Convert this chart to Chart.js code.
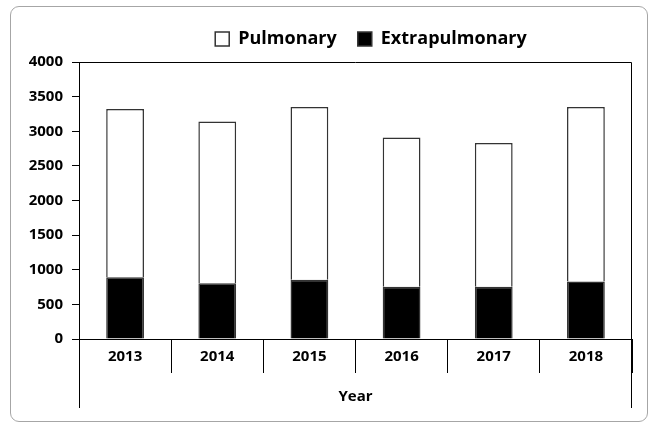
<!DOCTYPE html>
<html>
<head>
<meta charset="utf-8">
<script src="https://cdn.jsdelivr.net/npm/chart.js@4.4.0/dist/chart.umd.min.js"></script>
<style>
  html, body { margin: 0; padding: 0; background: #fff; }
  #wrap { position: relative; width: 658px; height: 424px; }
  #frame { position: absolute; left: 10px; top: 6px; width: 636px; height: 414px;
           border: 1px solid #a6a6a6; border-radius: 9px; pointer-events: none; }
  canvas { position: absolute; left: 0; top: 0; }
</style>
</head>
<body>
<div id="wrap">
  <canvas id="chart" width="658" height="424"></canvas>
  <div id="frame"></div>
</div>
<script>
const years = ["2013", "2014", "2015", "2016", "2017", "2018"];
const extrapulmonary = [890, 805, 855, 755, 755, 830];
const pulmonary = [2430, 2335, 2495, 2155, 2075, 2520];
const yMin = 0;
const yMax = 4000;
const yStep = 500;

const FONT = "'Open Sans', Lato, sans-serif";

// frame lines that Excel draws round the plot and under the categories
const framePlugin = {
    id: "frame",
    afterLayout(chart) {
        // legend sits a bit right of the canvas centre and a little higher
        const lg = chart.legend;
        const shift = 371 - (lg.left + lg.right) / 2;
        lg.left += shift;
        lg.right += shift;
        lg.top -= 4;
        lg.bottom -= 4;
    },
    afterDraw(chart) {
        const ctx = chart.ctx;
        const a = chart.chartArea;
        const bottom = chart.scales.x.bottom;
        const L = Math.round(a.left) + 0.5;
        const R = Math.round(a.right) - 0.5;
        const T = Math.round(a.top) + 0.5;
        ctx.save();
        ctx.strokeStyle = "#000";
        ctx.lineWidth = 1;
        ctx.beginPath();
        ctx.moveTo(L, T);
        ctx.lineTo(R, T);
        ctx.lineTo(R, bottom);
        ctx.moveTo(L, a.bottom);
        ctx.lineTo(L, bottom);
        ctx.stroke();
        ctx.restore();
    }
};

new Chart(document.getElementById("chart"), {
    type: "bar",
    data: {
        labels: years,
        datasets: [
            {
                label: "Extrapulmonary",
                data: extrapulmonary,
                backgroundColor: "#000",
                borderColor: "#333",
                borderWidth: 1.5
            },
            {
                label: "Pulmonary",
                data: pulmonary,
                backgroundColor: "#fff",
                borderColor: "#333",
                borderWidth: 1.5
            }
        ]
    },
    options: {
        responsive: false,
        devicePixelRatio: 1,
        animation: false,
        layout: { padding: { left: 0, right: 26, top: 13, bottom: 16 } },
        datasets: {
            bar: { categoryPercentage: 1, barPercentage: 0.41 }
        },
        plugins: {
            tooltip: { enabled: false },
            legend: {
                position: "top",
                reverse: true,
                labels: {
                    boxWidth: 14,
                    boxHeight: 14,
                    padding: 21,
                    color: "#000",
                    font: { family: FONT, size: 18, weight: "bold" }
                }
            }
        },
        scales: {
            x: {
                stacked: true,
                afterFit(scale) { scale.height = 69; },
                grid: {
                    offset: true,
                    drawOnChartArea: false,
                    tickLength: 34,
                    color: "#000"
                },
                border: { display: true, color: "#000", width: 1 },
                ticks: {
                    padding: -25,
                    color: "#000",
                    font: { family: FONT, size: 15, weight: "bold" }
                },
                title: {
                    display: true,
                    text: "Year",
                    color: "#000",
                    padding: { top: 22, bottom: 2 },
                    font: { family: FONT, size: 15, weight: "bold" }
                }
            },
            y: {
                stacked: true,
                min: yMin,
                max: yMax,
                afterFit(scale) { scale.width = 79; },
                grid: {
                    drawOnChartArea: false,
                    tickLength: 7,
                    color: "#000"
                },
                border: { display: true, color: "#000", width: 1 },
                ticks: {
                    stepSize: yStep,
                    padding: 9,
                    color: "#000",
                    callback: v => String(v),
                    font: { family: FONT, size: 15, weight: "bold" }
                }
            }
        }
    },
    plugins: [framePlugin]
});
</script>
</body>
</html>
